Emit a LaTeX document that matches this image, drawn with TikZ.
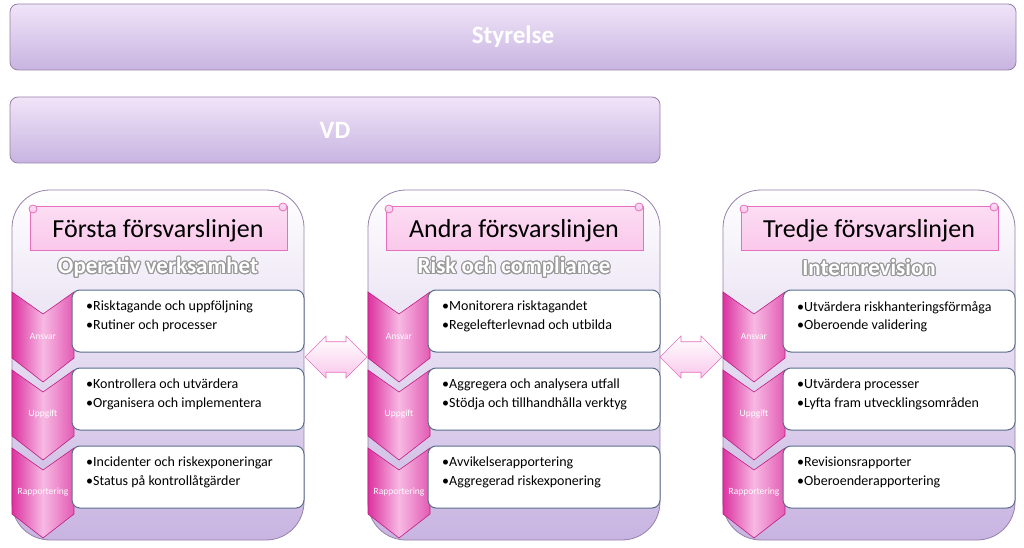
\documentclass[tikz,border=0pt]{standalone}
\usepackage{fontspec}
\setmainfont{Carlito}
\usepackage[copies]{contour}
\contourlength{1.1pt}
\contournumber{16}
\usetikzlibrary{shapes.arrows}
\definecolor{lavtop}{RGB}{240,228,248}
\definecolor{lavbot}{RGB}{200,180,225}
\definecolor{lavedge}{RGB}{150,130,170}
\definecolor{pinkA}{RGB}{250,200,235}
\definecolor{pinkB}{RGB}{220,50,160}
\definecolor{pinkdark}{RGB}{190,30,130}
\definecolor{boxedge}{RGB}{90,110,140}
\tikzset{
  bar/.style={draw=lavedge, rounded corners=8pt, top color=lavtop, bottom color=lavbot, line width=0.8pt},
  bartext/.style={text=white, font=\bfseries\fontsize{25}{27}\selectfont},
  colbox/.style={draw=lavedge, rounded corners=38pt, top color=white, bottom color=lavbot, line width=0.8pt},
  scroll/.style={draw=pinkB!70, top color=pinkA!60, bottom color=pinkA, line width=0.8pt},
  chev/.style={draw=pinkdark, left color=pinkB, right color=pinkB!80, middle color=pinkA!90!pinkB, line width=0.6pt},
  tbox/.style={draw=boxedge, rounded corners=8pt, fill=white, line width=1pt},
  btext/.style={anchor=north west, align=left, font=\fontsize{14}{18.5}\selectfont, inner sep=0pt},
  clabel/.style={text=white, font=\fontsize{9.5}{10}\selectfont},
  darrow/.style={double arrow, draw=pinkB!70, top color=white, bottom color=pinkA, minimum width=42pt, double arrow head extend=2pt, minimum height=62pt, inner sep=5pt, line width=0.6pt},
}
\newcommand{\fcol}[8]{%
  \begin{scope}[xshift=#1pt]
  \draw[colbox] (12,190) rectangle (304,540);
  \draw[scroll] (30,206) rectangle (287,250);
  \draw[scroll,fill=pinkA] (33,209) circle (4);
  \draw[scroll,fill=pinkA] (283,207) circle (4);
  \node (t#1) at (158,231) {\fontsize{26}{28}\selectfont #2};
  \node (s#1) at (158,268) {\fontsize{23}{25}\selectfont\bfseries\contour{gray!80}{\textcolor{white}{#3}}};
  \foreach \y/\lab [count=\i] in {292/Ansvar,370/Uppgift,448/Rapportering}{
    \draw[chev] (12,\y) -- (43,\y+22) -- (74,\y) -- (74,\y+66) -- (43,\y+90) -- (12,\y+66) -- cycle;
    \node[clabel] (c#1\i) at (43,\y+44) {\lab};
    \draw[tbox] (72,\y-2) rectangle (304,\y+60);
  }
  \node[btext] (a#1) at (86,301) {•#4\\•#5};
  \node[btext] (b#1) at (86,379) {•#6\\•#7};
  \node[btext] (d#1) at (86,457) {#8};
  \end{scope}}
\begin{document}
\begin{tikzpicture}[x=1pt,y=-1pt]
\useasboundingbox (0,0) rectangle (1024,548);
\fill[white] (0,0) rectangle (1024,548);
\draw[bar] (10,4) rectangle (1016,70);
\node[bartext] (sty) at (513,37) {Styrelse};
\draw[bar] (10,97) rectangle (660,163);
\node[bartext] (vd) at (335,130) {VD};
\fcol{0}{Första försvarslinjen}{Operativ verksamhet}{Risktagande och uppföljning}{Rutiner och processer}{Kontrollera och utvärdera}{Organisera och implementera}{•Incidenter och riskexponeringar\\•Status på kontrollåtgärder}
\fcol{356}{Andra försvarslinjen}{Risk och compliance}{Monitorera risktagandet}{Regelefterlevnad och utbilda}{Aggregera och analysera utfall}{Stödja och tillhandhålla verktyg}{•Avvikelserapportering\\•Aggregerad riskexponering}
\fcol{711}{Tredje försvarslinjen}{Internrevision}{Utvärdera riskhanteringsförmåga}{Oberoende validering}{Utvärdera processer}{Lyfta fram utvecklingsområden}{•Revisionsrapporter\\•Oberoenderapportering}
\node[darrow] (ar1) at (336,357) {};
\node[darrow] (ar2) at (691,357) {};
\end{tikzpicture}
\end{document}
